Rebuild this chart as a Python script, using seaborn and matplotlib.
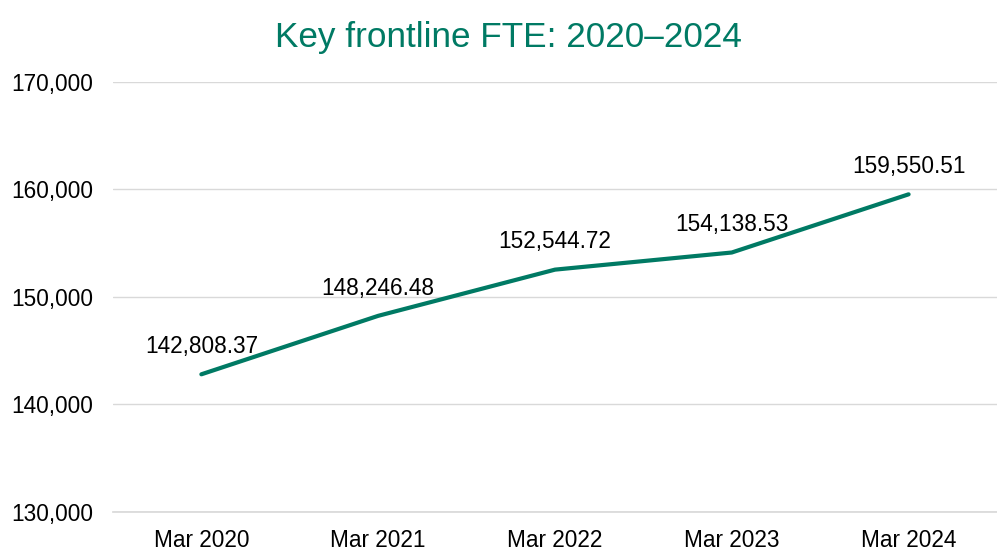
import matplotlib
matplotlib.use("Agg")
import matplotlib.pyplot as plt
import seaborn as sns
import pandas as pd

periods = ["Mar 2020", "Mar 2021", "Mar 2022", "Mar 2023", "Mar 2024"]
fte = [142808.37, 148246.48, 152544.72, 154138.53, 159550.51]
y_ticks = [130000, 140000, 150000, 160000, 170000]

teal = "#007A64"

sns.set_theme(style="white")
plt.rcParams["font.family"] = ["Liberation Sans", "DejaVu Sans"]

df = pd.DataFrame({"period": periods, "fte": fte})

fig = plt.figure(figsize=(9.97, 5.57), dpi=100)
ax = fig.add_axes([0.1133, 0.0808, 0.8867, 0.772])

sns.lineplot(data=df, x="period", y="fte", ax=ax, color=teal, linewidth=3.0,
             sort=False)

for i, v in enumerate(fte):
    ax.annotate(f"{v:,.2f}", (i, v), xytext=(0, 20), textcoords="offset points",
                ha="center", va="center", fontsize=16.3, color="black")

ax.set_xlim(-0.5, len(periods) - 0.5)
ax.set_ylim(130000, 170000)
ax.set_yticks(y_ticks)
ax.set_yticklabels([f"{t:,}" for t in y_ticks])
ax.yaxis.grid(True, color="#D9D9D9", linewidth=1.0)
ax.xaxis.grid(False)
ax.set_axisbelow(True)
for s in ax.spines.values():
    s.set_visible(False)
ax.spines["bottom"].set_visible(True)
ax.spines["bottom"].set_color("#D9D9D9")
ax.tick_params(axis="y", length=0, pad=14, labelsize=16.3, labelcolor="black")
ax.tick_params(axis="x", length=0, pad=12, labelsize=16.3, labelcolor="black")
ax.set_xlabel("")
ax.set_ylabel("")

fig.suptitle("Key frontline FTE: 2020\u20132024", x=0.51, y=0.962, va="top",
             fontsize=25.3, color=teal)

fig.savefig("out.png", dpi=100)
